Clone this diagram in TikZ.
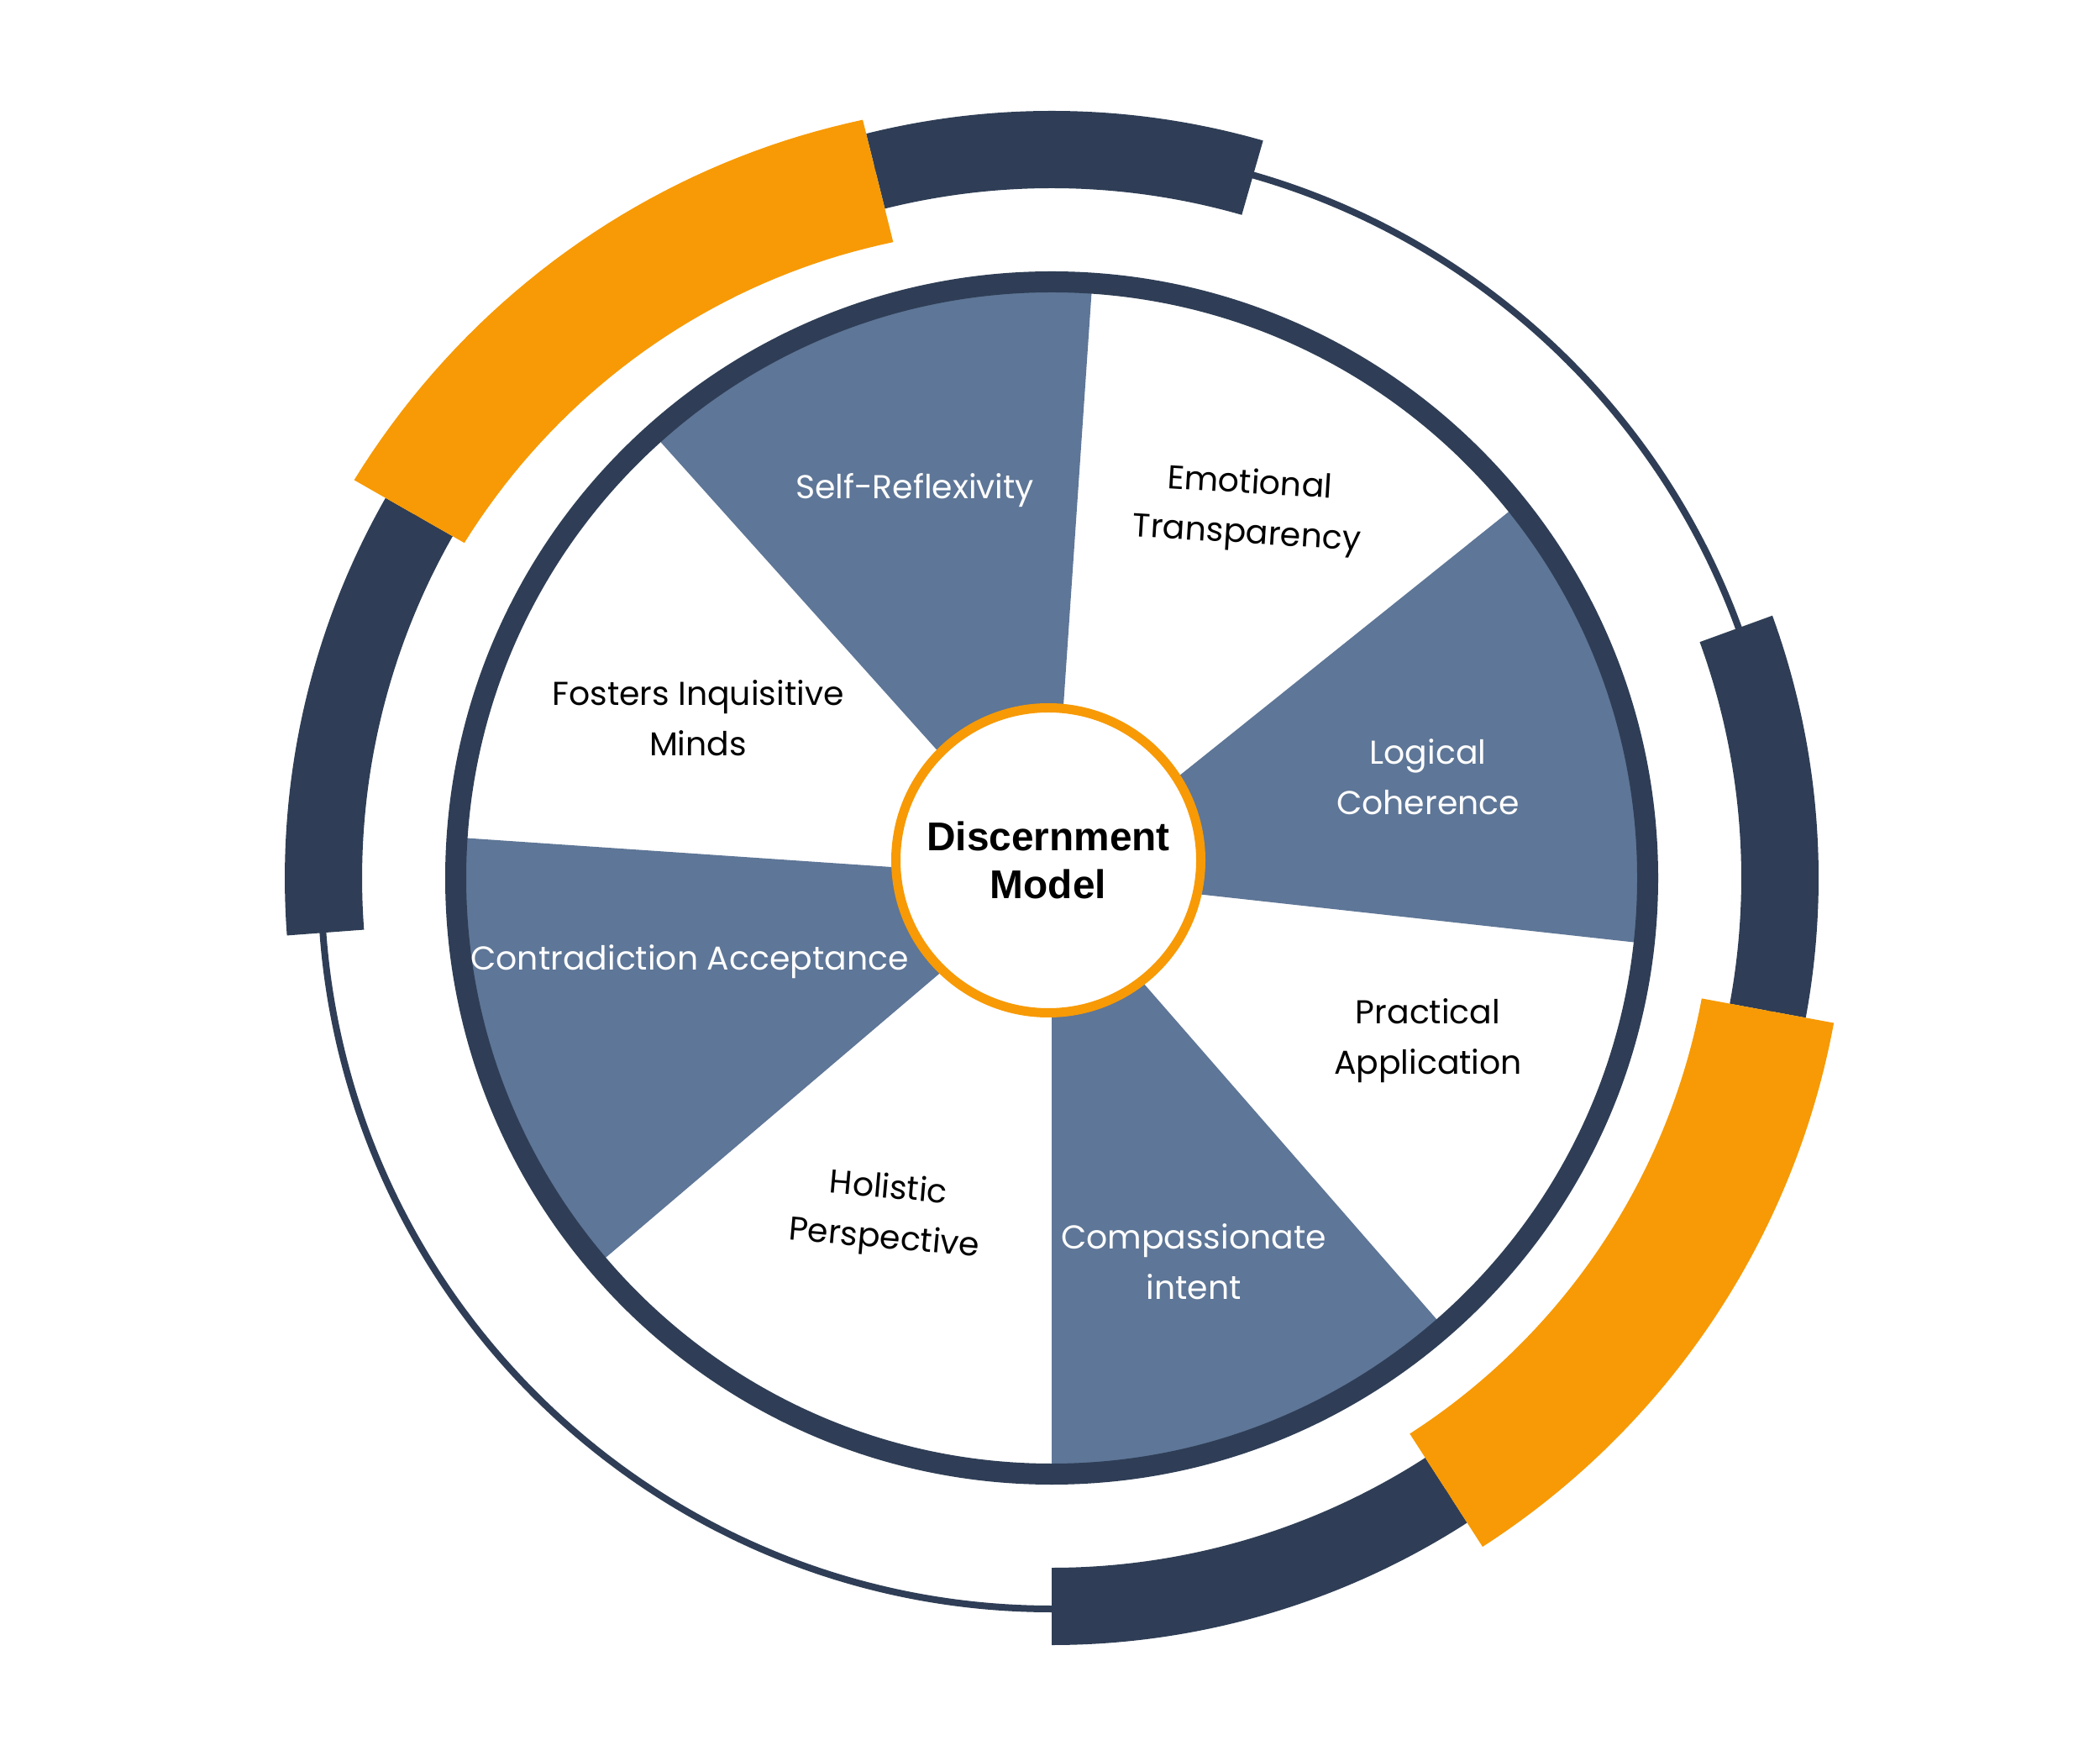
\documentclass[tikz,border=0pt]{standalone}
\usepackage{fontspec}
\setmainfont{Poppins}
\newfontfamily\hubfont{Liberation Sans}
\usetikzlibrary{positioning}

\definecolor{navy}{HTML}{2F3E56}
\definecolor{slate}{HTML}{5E7697}
\definecolor{amber}{HTML}{F79A05}

\tikzset{
  darklbl/.style={text=black, align=center, font=\fontsize{11.2}{17}\selectfont},
  lightlbl/.style={darklbl, text=white},
}

\begin{document}
\begin{tikzpicture}
  \useasboundingbox (0,0) rectangle (25,20.95);
  \fill[white] (0,0) rectangle (25,20.95);

  \begin{scope}[shift={(12.52,10.50)}]
    % thin outer ring
    \draw[navy, line width=0.08cm] (0,0) circle (8.70);
    % dark bands
    \foreach \a/\b in {74/104, 150.3/184.3, 270/302.8, -10.5/20}
      \fill[navy] (\a:8.21) arc[start angle=\a, end angle=\b, radius=8.21]
        -- (\b:9.13) arc[start angle=\b, end angle=\a, radius=9.13] -- cycle;
    % orange bands (upper one widens a little towards its lower end)
    \fill[amber] plot[domain=104:150.3, samples=40] (\x:{7.80+0.25*(\x-104)/46.3})
      -- plot[domain=150.3:104, samples=40] (\x:{9.30+0.26*(\x-104)/46.3}) -- cycle;
    \fill[amber] (302.8:7.87) arc[start angle=302.8, end angle=349.5, radius=7.87]
      -- (349.5:9.47) arc[start angle=349.5, end angle=302.8, radius=9.47] -- cycle;
    % shaded wedges
    \foreach \a/\b in {86.1/131.9, -6.3/38.7, -90/-48.9, 176.1/220.4}
      \fill[slate] (0,0) -- (\a:7.0) arc[start angle=\a, end angle=\b, radius=7.0] -- cycle;
    % rim
    \draw[navy, line width=0.25cm] (0,0) circle (7.095);
  \end{scope}

  % hub
  \node[circle, draw=amber, fill=white, line width=0.11cm, minimum size=3.63cm, inner sep=0pt,
        align=center, font=\hubfont\bfseries\fontsize{13.6}{16}\selectfont] (hub) at (12.48,10.71) {Discernment\\Model};

  % labels
  \node[lightlbl] (selfref) at (10.89,15.11) {Self-Reflexivity};
  \node[darklbl, rotate=-3.5] (emotion) at (14.86,14.88) {Emotional\\Transparency};
  \node[lightlbl] (logic) at (17.00,11.70) {Logical\\Coherence};
  \node[darklbl] (practice) at (17.00,8.56) {Practical\\Application};
  \node[lightlbl] (compassion) at (14.21,5.93) {Compassionate\\intent};
  \node[darklbl, rotate=-5] (holistic) at (10.55,6.49) {Holistic\\Perspective};
  \node[lightlbl] (contradiction) at (8.21,9.50) {Contradiction Acceptance};
  \node[darklbl] (fosters) at (8.31,12.40) {Fosters Inquisitive\\Minds};
\end{tikzpicture}
\end{document}
